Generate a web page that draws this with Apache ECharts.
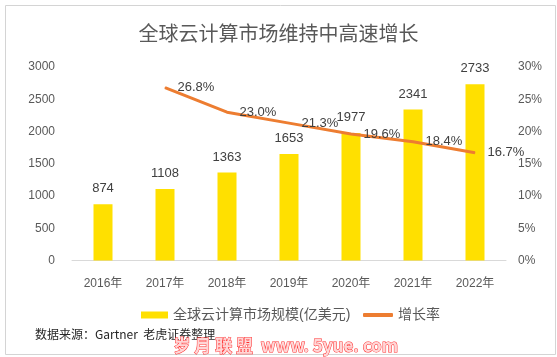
<!DOCTYPE html>
<html>
<head>
<meta charset="utf-8">
<script src="https://cdn.jsdelivr.net/npm/echarts@6/dist/echarts.min.js"></script>
<style>
html,body{margin:0;padding:0;background:#fff;}
#c{width:557px;height:357px;}
</style>
</head>
<body>
<div id="c"></div>
<script>
var titleText = '全球云计算市场维持中高速增长';
var categories = ['2016年','2017年','2018年','2019年','2020年','2021年','2022年'];
var marketSize = [874, 1108, 1363, 1653, 1977, 2341, 2733];
var growthRate = [null, 26.8, 23.0, 21.3, 19.6, 18.4, 16.7];
var seriesNames = ['全球云计算市场规模(亿美元)', '增长率'];
var sourceText = '数据来源：Gartner  老虎证券整理';
var stampText = '岁 月 联 盟  www. 5yue. com';

var FONT = '"Liberation Sans", "Noto Sans CJK SC", sans-serif';
var chart = echarts.init(document.getElementById('c'), null, {renderer:'canvas'});
chart.setOption({
  backgroundColor: '#fff',
  animation: false,
  textStyle: {fontFamily: FONT},
  title: {
    text: titleText, left: 'center', top: 20,
    textStyle: {fontSize: 20, fontWeight: 'normal', color: '#595959', fontFamily: FONT}
  },
  legend: [{
    left: 136, top: 303, itemWidth: 27, itemHeight: 7,
    textStyle: {fontSize: 14, color: '#595959', fontFamily: FONT},
    data: [{name: seriesNames[0], icon: 'rect'}]
  }, {
    left: 358, top: 303, itemWidth: 30, itemHeight: 4,
    textStyle: {fontSize: 14, color: '#595959', fontFamily: FONT},
    data: [{name: seriesNames[1], icon: 'roundRect'}]
  }],
  grid: {left: 72, right: 51, top: 67, bottom: 96.5, containLabel: false},
  xAxis: {
    type: 'category', data: categories,
    axisLine: {lineStyle: {color: '#d9d9d9', width: 1}},
    axisTick: {show: false},
    axisLabel: {fontSize: 12, color: '#595959', margin: 17}
  },
  yAxis: [{
    type: 'value', min: 0, max: 3000, interval: 500,
    axisLine: {show: false}, axisTick: {show: false}, splitLine: {show: false},
    axisLabel: {fontSize: 12, color: '#595959', margin: 17, formatter: function(v){ return String(v); }}
  }, {
    type: 'value', min: 0, max: 30, interval: 5,
    axisLine: {show: false}, axisTick: {show: false}, splitLine: {show: false},
    axisLabel: {fontSize: 12, color: '#595959', margin: 12, formatter: '{value}%'}
  }],
  series: [{
    name: seriesNames[0], type: 'bar', data: marketSize, barWidth: 19,
    itemStyle: {color: '#FFE000'},
    label: {show: true, position: 'top', distance: 9, fontSize: 13, color: '#404040'}
  }, {
    name: seriesNames[1], type: 'line', yAxisIndex: 1, data: growthRate,
    symbol: 'circle', symbolSize: 1, showSymbol: true, connectNulls: false,
    lineStyle: {color: '#ED7D31', width: 3},
    itemStyle: {color: '#ED7D31'},
    label: {show: true, position: 'right', distance: 12, fontSize: 13, color: '#404040',
      formatter: function(p){ return p.value == null ? '' : p.value.toFixed(1) + '%'; }}
  }],
  graphic: [
    {type: 'rect', left: 3, top: 3, shape: {width: 550, height: 349},
     style: {fill: 'none', stroke: '#d4d4d4', lineWidth: 1}, silent: true, z: -1},
    {type: 'text', left: 35, top: 328,
     style: {text: sourceText, fill: '#262626', font: '12px "Noto Sans CJK SC", sans-serif'}},
    {type: 'text', left: 173, top: 337,
     style: {text: stampText, fill: '#ffd6d6', stroke: '#ff2a2a', lineWidth: 1,
       font: 'bold 17px "Noto Sans CJK SC", sans-serif'}}
  ]
});
</script>
</body>
</html>
